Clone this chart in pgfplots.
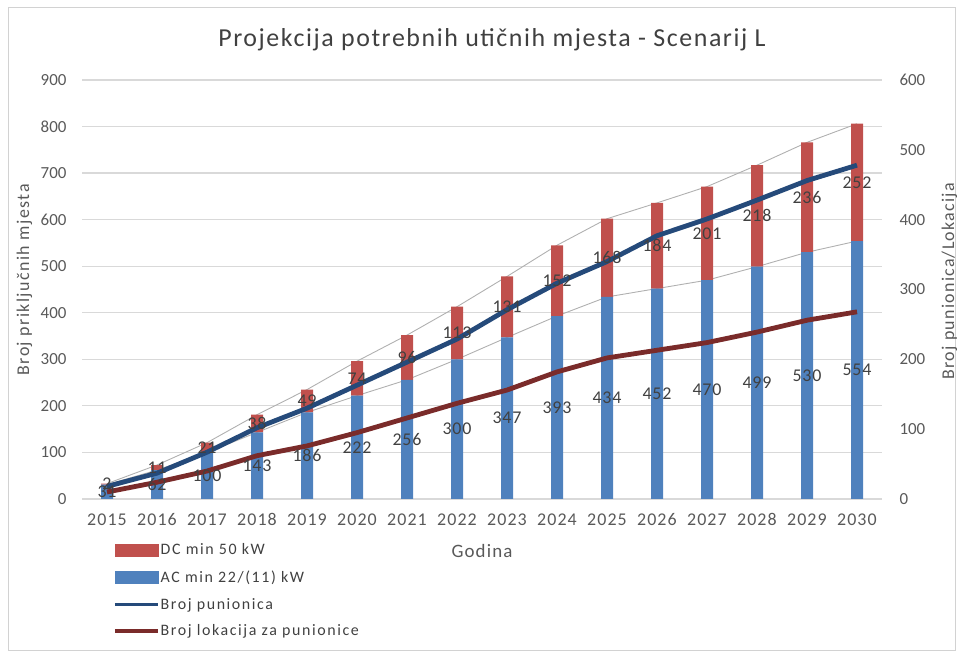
\documentclass[border=0pt]{standalone}
\usepackage{fontspec}
\setmainfont{Carlito}
\usepackage{pgfplots}
\pgfplotsset{compat=1.18}
\usepackage{pgfplotstable}

\definecolor{acblue}{HTML}{4F81BD}
\definecolor{dcred}{HTML}{C0504D}
\definecolor{pundark}{HTML}{254A7A}
\definecolor{lokdark}{HTML}{7A2B2A}
\definecolor{gridgray}{HTML}{D9D9D9}
\definecolor{sergray}{HTML}{B0B0B0}
\definecolor{ticktext}{HTML}{595959}
\definecolor{labeltext}{HTML}{404040}

\pgfplotstableread{
year AC DC pun lok
2015 31 2 18 10
2016 62 11 37 24
2017 100 21 67 40
2018 143 38 102 62
2019 186 49 130 76
2020 222 74 163 95
2021 256 96 196 116
2022 300 113 229 137
2023 347 131 271 156
2024 393 152 309 182
2025 434 168 340 202
2026 452 184 377 213
2027 470 201 401 224
2028 499 218 428 239
2029 530 236 456 256
2030 554 252 478 268
}\data

\pgfplotsset{base/.style={scale only axis, width=800bp, height=419bp,
  at={(82bp,160bp)}, anchor=south west, xmin=2014.5, xmax=2030.5}}

\begin{document}
\begin{tikzpicture}[x=1bp,y=1bp]
\path[use as bounding box] (0,0) rectangle (957,659);
\draw[gray!35, line width=1bp] (8,8) rectangle (955,651);

% grid, ticks, titles, series lines
\begin{axis}[base, ymin=0, ymax=900, ytick={0,100,...,900}, xtick={2015,...,2030},
  ymajorgrids, grid style={gridgray, line width=1.2bp},
  axis line style={draw=none}, major tick length=0pt,
  tick label style={font=\fontsize{17}{20}\selectfont, text=ticktext,
    /pgf/number format/assume math mode=true},
  x tick label style={/pgf/number format/1000 sep={}, yshift=-11bp,
    font=\fontsize{18}{21}\selectfont\addfontfeatures{LetterSpace=6}},
  y tick label style={xshift=-12bp},
  title={Projekcija potrebnih utičnih mjesta - Scenarij L},
  title style={at={(axis description cs:0.5125,1.0668)}, anchor=base,
    font=\fontsize{26}{30}\selectfont\addfontfeatures{LetterSpace=6}, text=labeltext},
  xlabel={Godina},
  xlabel style={at={(axis description cs:0.5,-0.1408)}, anchor=base,
    font=\fontsize{19}{22}\selectfont\addfontfeatures{LetterSpace=6}, text=ticktext},
  ylabel={Broj priključnih mjesta},
  ylabel style={at={(axis description cs:-0.066,0.523)}, anchor=base, rotate=0,
    font=\fontsize{18}{21}\selectfont\addfontfeatures{LetterSpace=8}, text=ticktext},
]
\addplot[sergray, line width=0.9bp] table[x=year, y=AC]{\data};
\addplot[sergray, line width=0.9bp] table[x=year, y expr=\thisrow{AC}+\thisrow{DC}]{\data};
\end{axis}

% stacked bars
\begin{axis}[base, ymin=0, ymax=900, ybar stacked, bar width=12bp, hide axis]
\addplot[fill=acblue, draw=none] table[x=year, y=AC]{\data};
\addplot[fill=dcred, draw=none] table[x=year, y=DC]{\data};
\end{axis}

% right axis lines + legend
\begin{axis}[base, ymin=0, ymax=600, ytick={0,100,...,600}, xtick=\empty,
  axis x line=none, axis y line*=right, y axis line style={draw=none},
  major tick length=0pt,
  tick label style={font=\fontsize{17}{20}\selectfont, text=ticktext,
    /pgf/number format/assume math mode=true},
  y tick label style={xshift=14bp},
  ylabel={Broj punionica/Lokacija},
  ylabel style={at={(axis description cs:1.09,0.52)}, anchor=base, rotate=0,
    font=\fontsize{18}{21}\selectfont\addfontfeatures{LetterSpace=7}, text=ticktext},
  legend style={at={(axis description cs:0.035,-0.0993)}, anchor=north west,
    draw=none, fill=none, font=\fontsize{16}{19}\selectfont\addfontfeatures{LetterSpace=10}, text=labeltext,
    row sep=12.3bp, nodes={inner xsep=1bp, inner ysep=1bp}},
  legend cell align=left,
]
\addlegendimage{legend image code/.code={\fill[dcred] (0bp,-6bp) rectangle (43bp,6bp);}}
\addlegendentry{DC min 50 kW}
\addlegendimage{legend image code/.code={\fill[acblue] (0bp,-6bp) rectangle (43bp,6bp);}}
\addlegendentry{AC min 22/(11) kW}
\addplot[pundark, line width=4.8bp, mark=none,
  legend image code/.code={\draw[pundark, line width=3.5bp] (0bp,0bp) -- (43bp,0bp);}]
  table[x=year, y=pun]{\data};
\addlegendentry{Broj punionica}
\addplot[lokdark, line width=4.8bp, mark=none,
  legend image code/.code={\draw[lokdark, line width=3.5bp] (0bp,0bp) -- (43bp,0bp);}]
  table[x=year, y=lok]{\data};
\addlegendentry{Broj lokacija za punionice}
\end{axis}

% data labels
\begin{axis}[base, ymin=0, ymax=900, hide axis,
  nodes near coords style={anchor=center,
    font=\fontsize{18}{21}\selectfont\addfontfeatures{LetterSpace=4}, text=labeltext}]
\addplot[draw=none, mark=none, nodes near coords, point meta=explicit symbolic]
  table[x=year, y expr=\thisrow{AC}/2, meta=AC]{\data};
\addplot[draw=none, mark=none, nodes near coords, point meta=explicit symbolic]
  table[x=year, y expr=\thisrow{AC}+\thisrow{DC}/2, meta=DC]{\data};
\end{axis}
\end{tikzpicture}
\end{document}
